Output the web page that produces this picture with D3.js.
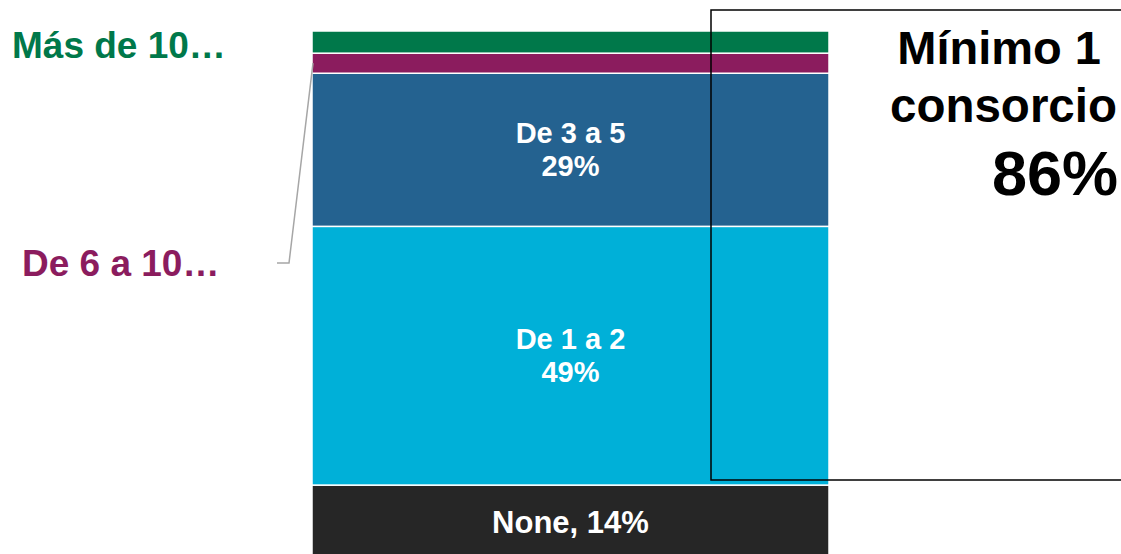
<!DOCTYPE html>
<html>
<head>
<meta charset="utf-8">
<script src="https://cdn.jsdelivr.net/npm/d3@7"></script>
<style>
  body { margin: 0; background: #fff; }
  text { font-family: "Liberation Sans", Arial, sans-serif; font-weight: bold; }
</style>
</head>
<body>
<div id="chart"></div>
<script>
// Data
const categories = ["None", "De 1 a 2", "De 3 a 5", "De 6 a 10", "Más de 10"];
const shares = [14, 49, 29, 3.8, 4.2];
const innerLabels = [["None, 14%"], ["De 1 a 2", "49%"], ["De 3 a 5", "29%"], [], []];
const sideLabels = ["", "", "", "De 6 a 10…", "Más de 10…"];
const colors = ["#262626", "#00B0D8", "#246290", "#8B1C5E", "#00784A"];
const summaryLines = ["Mínimo 1", "consorcio"];
const summaryValue = "86%";

const width = 1121;
const height = 554;

const svg = d3.select('#chart')
  .append('svg')
    .attr('width', width)
    .attr('height', height);

// stack the single bar
let acc = 0;
const segments = categories.map((c, i) => {
  const s = { cat: c, y0: acc, y1: acc + shares[i], color: colors[i], lines: innerLabels[i], side: sideLabels[i] };
  acc += shares[i];
  return s;
});

const y = d3.scaleLinear()
  .domain([0, 100])
  .range([559, 31]);

const x = d3.scaleBand()
  .domain(["consorcios"])
  .range([312, 829]);

// bars
svg.append('g')
  .selectAll('rect')
  .data(segments)
  .join('rect')
    .attr('x', x("consorcios"))
    .attr('y', d => y(d.y1))
    .attr('width', x.bandwidth())
    .attr('height', d => y(d.y0) - y(d.y1))
    .attr('fill', d => d.color)
    .attr('stroke', '#fff')
    .attr('stroke-width', 1.5);

// labels inside the bar
const cx = x("consorcios") + x.bandwidth() / 2;
const lineH = 33;
svg.append('g')
  .selectAll('text')
  .data(segments.filter(d => d.lines.length))
  .join('text')
    .attr('text-anchor', 'middle')
    .attr('fill', '#fff')
    .attr('font-size', d => d.lines.length === 1 ? 31 : 29)
    .each(function(d) {
      const mid = (y(d.y0) + y(d.y1)) / 2;
      const n = d.lines.length;
      d3.select(this).selectAll('tspan')
        .data(d.lines)
        .join('tspan')
          .attr('x', cx)
          .attr('y', (l, i) => mid + (i - (n - 1) / 2) * lineH + (n === 1 ? 11 : 10))
          .text(l => l);
    });

// side labels on the left
const green = segments[4];
const purple = segments[3];
svg.append('text')
  .attr('x', 12)
  .attr('y', (y(green.y0) + y(green.y1)) / 2 + 16)
  .attr('font-size', 37)
  .attr('fill', green.color)
  .text(green.side);

svg.append('text')
  .attr('x', 22)
  .attr('y', 276)
  .attr('font-size', 37)
  .attr('fill', purple.color)
  .text(purple.side);

// leader line to the purple segment
const purpleMid = (y(purple.y0) + y(purple.y1)) / 2;
svg.append('path')
  .attr('d', d3.line()([[277, 263], [289, 263], [x("consorcios") + 1, purpleMid]]))
  .attr('fill', 'none')
  .attr('stroke', '#A6A6A6')
  .attr('stroke-width', 1.5);

// summary box
svg.append('rect')
  .attr('x', 711)
  .attr('y', 10)
  .attr('width', 500)
  .attr('height', 470)
  .attr('fill', 'none')
  .attr('stroke', '#000')
  .attr('stroke-width', 1.5);

svg.append('text')
  .attr('x', 1101)
  .attr('y', 64)
  .attr('text-anchor', 'end')
  .attr('font-size', 47)
  .attr('fill', '#000')
  .text(summaryLines[0]);

svg.append('text')
  .attr('x', 1117)
  .attr('y', 122)
  .attr('text-anchor', 'end')
  .attr('font-size', 47.5)
  .attr('fill', '#000')
  .text(summaryLines[1]);

svg.append('text')
  .attr('x', 1118)
  .attr('y', 195)
  .attr('text-anchor', 'end')
  .attr('font-size', 63)
  .attr('fill', '#000')
  .text(summaryValue);
</script>
</body>
</html>
